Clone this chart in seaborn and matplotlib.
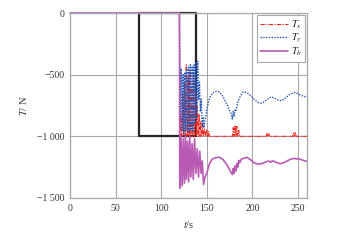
import numpy as np
import pandas as pd
import matplotlib
matplotlib.use("Agg")
import matplotlib.pyplot as plt
import seaborn as sns

# black reference box (command)
box_t = [76, 76, 138, 138, 76]
box_T = [0, -1000, -1000, 0, 0]

# T_x (red, dash-dot)
tx_t = [0, 120, 120.5, 121.5, 122.5, 123.5, 124.5, 125.5, 126.5, 127.5, 128.5, 129.5,
        130.5, 131.5, 132.5, 133.5, 134.5, 135.5, 136.5, 137.5, 138.5, 139.5, 140.5,
        141.5, 142.5, 143.5, 144.5, 145.5, 146.5, 147.5, 149, 150, 151, 152, 153, 155,
        160, 170, 178, 179, 180, 181, 182, 183, 184, 185, 186, 187, 190, 200, 215, 216,
        217, 218, 219, 220, 230, 244, 245, 246, 247, 248, 255, 260]
tx_T = [0, 0, -1000, -830, -1000, -650, -1000, -560, -1000, -420, -1000, -520,
        -1000, -470, -1000, -600, -1000, -500, -1000, -640, -1000, -760, -1000,
        -820, -1000, -880, -1000, -900, -1000, -940, -1000, -950, -1000, -960, -1000, -1000,
        -1000, -1000, -1000, -930, -1000, -910, -1000, -920, -1000, -950, -1000, -1000, -1000, -1000, -1000, -975,
        -1000, -980, -1000, -1000, -1000, -1000, -975, -1000, -965, -1000, -1000, -1000]

# T_y (blue, dotted)
ty_t = [0, 120, 121, 122, 123, 124, 125, 126, 127, 128, 129, 130, 131, 132, 133, 134,
        135, 136, 137, 138, 139, 140, 141, 142, 143, 144, 145, 146, 147, 148, 150, 153,
        156, 160, 164, 168, 172, 175, 177, 178, 179, 180, 181, 182, 184, 187, 190, 194,
        198, 202, 206, 210, 214, 218, 221, 224, 228, 232, 236, 240, 244, 247, 250, 254,
        258, 260]
ty_T = [0, 0, -850, -450, -950, -500, -980, -480, -950, -450, -960, -430, -970, -420, -950, -430,
        -960, -420, -900, -400, -850, -390, -700, -560, -800, -700, -920, -850, -930, -880, -780, -690,
        -650, -635, -640, -680, -740, -790, -820, -860, -800, -840, -780, -790, -720, -670, -640, -645,
        -670, -700, -725, -732, -715, -690, -680, -690, -705, -712, -690, -665, -650, -645, -655, -670,
        -678, -682]

# T_b (magenta, solid)
tb_t = [0, 120, 120.4, 121.8, 123, 124.3, 125.4, 126.6, 127.6, 128.9, 130.1, 131.3,
        132.5, 133.9, 135.2, 136.6, 138, 139.5, 140.9, 142.3, 143.8, 145, 146.5, 148,
        150, 153, 156, 160, 164, 168, 172, 175, 178, 179, 180, 181, 182, 183, 184, 185,
        186, 188, 190, 194, 198, 202, 206, 210, 214, 218, 220, 222, 226, 230, 234, 238,
        242, 246, 248, 250, 254, 258, 260]
tb_T = [0, 0, -1420, -1000, -1400, -1020, -1380, -1000, -1350, -1040, -1370, -1000,
        -1330, -1060, -1350, -1020, -1300, -1100, -1330, -1120, -1300, -1200, -1390, -1330,
        -1300, -1220, -1185, -1172, -1170, -1190, -1230, -1270, -1310, -1260, -1300, -1240, -1280, -1220, -1250, -1195,
        -1215, -1185, -1180, -1170, -1190, -1215, -1225, -1222, -1210, -1200, -1210, -1198, -1210, -1222, -1215, -1200,
        -1185, -1178, -1185, -1180, -1190, -1200, -1203]

x_ticks = [0, 50, 100, 150, 200, 250]
y_ticks = [0, -500, -1000, -1500]
y_tick_labels = ["0", "\u2212500", "\u22121 000", "\u22121 500"]

sns.set_style("whitegrid")
plt.rcParams["font.family"] = ["Liberation Serif", "DejaVu Serif"]
plt.rcParams["mathtext.fontset"] = "stix"

fig = plt.figure(figsize=(3.47, 2.43), dpi=100)
ax = fig.add_axes([0.2017, 0.1852, 0.6833, 0.7613])

box = pd.DataFrame({"t": box_t, "T": box_T})
sns.lineplot(data=box, x="t", y="T", ax=ax, color="#2b2222", lw=1.6,
             sort=False, estimator=None)
ax.lines[-1].set_clip_on(False)

tx = pd.DataFrame({"t": tx_t, "T": tx_T})
sns.lineplot(data=tx, x="t", y="T", ax=ax, color="#ee2a1f", lw=0.8,
             sort=False, estimator=None, label=r"$T_x$")
ax.lines[-1].set_linestyle((0, (4, 1.2, 1, 1.2)))

ty = pd.DataFrame({"t": ty_t, "T": ty_T})
sns.lineplot(data=ty, x="t", y="T", ax=ax, color="#2356b8", lw=1.0,
             sort=False, estimator=None, label=r"$T_y$")
ax.lines[-1].set_linestyle((0, (1, 1)))

tb = pd.DataFrame({"t": tb_t, "T": tb_T})
sns.lineplot(data=tb, x="t", y="T", ax=ax, color="#b85ab4", lw=1.2,
             sort=False, estimator=None, label=r"$T_b$")
ax.lines[-1].set_clip_on(False)

ax.set_xlim(0, 260)
ax.set_ylim(-1500, 0)
ax.set_xticks(x_ticks)
ax.set_yticks(y_ticks)
ax.set_yticklabels(y_tick_labels)
ax.tick_params(length=0, labelsize=7, colors="#333333", pad=4)
ax.grid(True, color="#a8a8a8", lw=0.8)
for s in ax.spines.values():
    s.set_color("#a8a8a8")
    s.set_linewidth(0.9)

ax.set_xlabel(r"$t$/s", fontsize=7.5, color="#333333", labelpad=5)
ax.set_ylabel(r"$T$/ N", fontsize=7.5, color="#333333", labelpad=6)

leg = ax.legend(loc="upper right", fontsize=7.5, frameon=True, fancybox=False,
                edgecolor="#a8a8a8", framealpha=1, handlelength=2.6,
                borderpad=0.3, labelspacing=0.1, handletextpad=0.3,
                borderaxespad=0.2)
leg.get_frame().set_linewidth(0.8)

fig.savefig("out.png", dpi=100)
